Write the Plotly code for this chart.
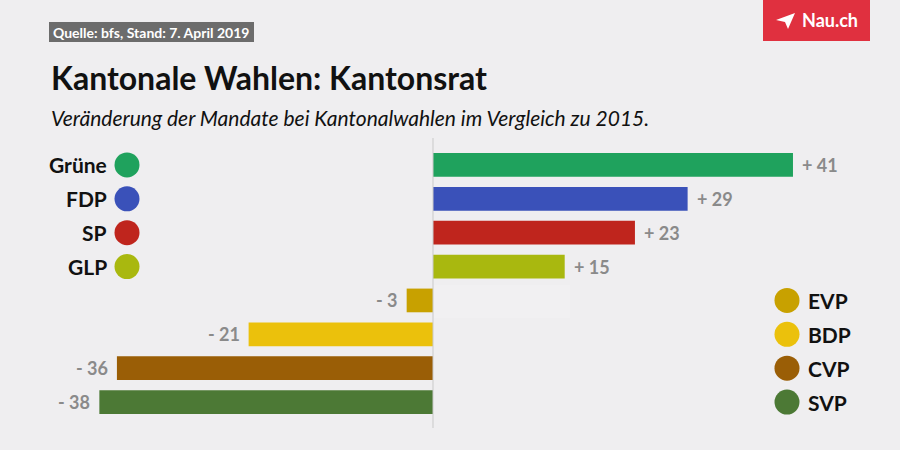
import plotly.graph_objects as go

parties = ["Grüne", "FDP", "SP", "GLP", "EVP", "BDP", "CVP", "SVP"]
changes = [41, 29, 23, 15, -3, -21, -36, -38]
colors = ["#1fa25d", "#3a51b9", "#bf251d", "#a9b80f", "#c8a100", "#ebc10c", "#9a5e06", "#4c7935"]
labels = ["+ 41", "+ 29", "+ 23", "+ 15", "- 3", "- 21", "- 36", "- 38"]

title = "Kantonale Wahlen: Kantonsrat"
subtitle = "Veränderung der Mandate bei Kantonalwahlen im Vergleich zu 2015."
source = "Quelle: bfs, Stand: 7. April 2019"

BG = "#efeef0"
FONT = "Lato"
W, H = 900, 450
MT, MB = 148, 31
PLOT_H = H - MT - MB


def px(x):
    return x / W


def py(y):
    return (H - MB - y) / PLOT_H


fig = go.Figure()
fig.add_trace(go.Bar(
    x=changes, y=parties, orientation="h",
    marker=dict(color=colors, line=dict(width=0)),
    hoverinfo="skip",
))

left_idx = [i for i, v in enumerate(changes) if v > 0]
right_idx = [i for i, v in enumerate(changes) if v < 0]
fig.add_trace(go.Scatter(
    x=[127] * len(left_idx), y=[parties[i] for i in left_idx],
    xaxis="x2", mode="markers",
    marker=dict(size=25, color=[colors[i] for i in left_idx], line=dict(width=0)),
    hoverinfo="skip",
))
fig.add_trace(go.Scatter(
    x=[787] * len(right_idx), y=[parties[i] for i in right_idx],
    xaxis="x2", mode="markers",
    marker=dict(size=25, color=[colors[i] for i in right_idx], line=dict(width=0)),
    hoverinfo="skip",
))

annotations = []
for i in left_idx:
    annotations.append(dict(x=109, y=parties[i], xref="x2", yref="y", text=parties[i],
                            xanchor="right", yanchor="middle", showarrow=False,
                            font=dict(family=FONT, size=21, color="#111111", weight="bold")))
for i in right_idx:
    annotations.append(dict(x=806, y=parties[i], xref="x2", yref="y", text=parties[i],
                            xanchor="left", yanchor="middle", showarrow=False,
                            font=dict(family=FONT, size=21, color="#111111", weight="bold")))
for p, v, t in zip(parties, changes, labels):
    annotations.append(dict(x=v, y=p, xref="x", yref="y", text=t,
                            xanchor="left" if v > 0 else "right",
                            xshift=7 if v > 0 else -7, yanchor="middle", showarrow=False,
                            font=dict(family=FONT, size=18, color="#8a8a8a", weight="bold")))

annotations += [
    dict(x=px(49), y=py(78), xref="paper", yref="paper", text=title,
         xanchor="left", yanchor="middle", showarrow=False,
         font=dict(family=FONT, size=32, color="#111111", weight="bold")),
    dict(x=px(49), y=py(118), xref="paper", yref="paper", text=subtitle,
         xanchor="left", yanchor="middle", showarrow=False,
         font=dict(family=FONT, size=21, color="#111111", style="italic")),
    dict(x=px(151), y=py(32), xref="paper", yref="paper", text=source,
         xanchor="center", yanchor="middle", showarrow=False,
         font=dict(family=FONT, size=14, color="#ffffff", weight="bold")),
    dict(x=px(830), y=py(20), xref="paper", yref="paper", text="Nau.ch",
         xanchor="center", yanchor="middle", showarrow=False,
         font=dict(family=FONT, size=18, color="#ffffff", weight="bold")),
]

shapes = [
    dict(type="rect", xref="paper", yref="paper", x0=px(49), x1=px(254),
         y0=py(42), y1=py(22), fillcolor="#6c6c6c", line=dict(width=0), layer="below"),
    dict(type="rect", xref="paper", yref="paper", x0=px(763), x1=px(870),
         y0=py(41), y1=py(0), fillcolor="#e0303f", line=dict(width=0), layer="below"),
    dict(type="path", xref="paper", yref="paper",
         path=f"M {px(776)},{py(20)} L {px(795)},{py(13)} L {px(788)},{py(29)} L {px(785)},{py(22)} Z",
         fillcolor="#ffffff", line=dict(width=0)),
    dict(type="rect", xref="paper", yref="paper", x0=px(434), x1=px(570),
         y0=py(318), y1=py(285), fillcolor="#f1f0f2", line=dict(width=0), layer="below"),
    dict(type="line", xref="x", yref="paper", x0=0, x1=0,
         y0=py(428), y1=py(138), line=dict(color="#c9c9c9", width=1)),
]

fig.update_layout(
    width=W, height=H,
    margin=dict(l=0, r=0, t=MT, b=MB, pad=0),
    paper_bgcolor=BG, plot_bgcolor=BG,
    showlegend=False,
    bargap=0.3,
    xaxis=dict(range=[-433 / 8.78, 467 / 8.78], visible=False, fixedrange=True),
    xaxis2=dict(range=[0, W], overlaying="x", visible=False, fixedrange=True),
    yaxis=dict(range=[len(parties) - 0.5, -0.5], visible=False, fixedrange=True,
               categoryorder="array", categoryarray=parties),
    annotations=annotations,
    shapes=shapes,
)

fig.write_html("out.html", config=dict(displayModeBar=False),
               post_script="document.body.style.margin='0';document.body.style.background='%s';" % BG)
